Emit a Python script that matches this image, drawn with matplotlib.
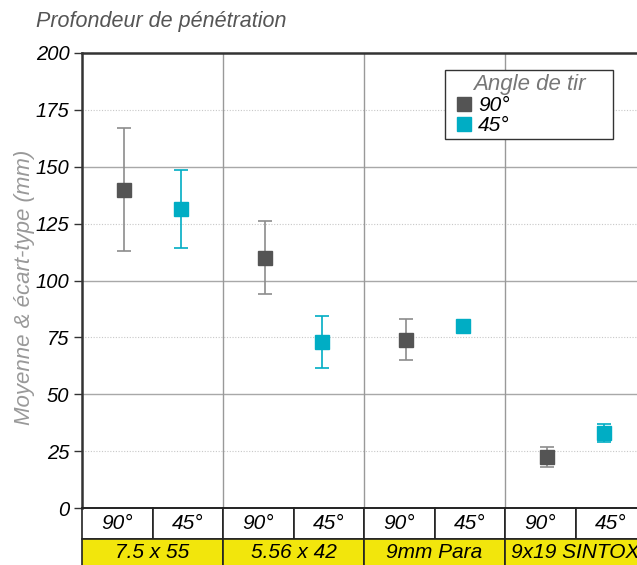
import numpy as np
import matplotlib.pyplot as plt
from matplotlib.patches import Rectangle
from matplotlib.lines import Line2D
from matplotlib.legend_handler import HandlerLine2D

plt.rcParams['font.family'] = ['Liberation Sans', 'DejaVu Sans']
plt.rcParams['font.style'] = 'italic'

categories = ['7.5 x 55', '5.56 x 42', '9mm Para', '9x19 SINTOX']
angles = ['90°', '45°']
mean_90 = [140, 110, 74, 22.5]
sd_90 = [27, 16, 9, 4.5]
mean_45 = [131.5, 73, 80, 33]
sd_45 = [17, 11.5, 0, 4]

c90 = '#545454'
c90_err = '#8c8c8c'
c45 = '#00adc4'

fig = plt.figure(figsize=(6.37, 5.65), dpi=100)
ax = fig.add_axes([82 / 637, 57 / 565, 564 / 637, 455 / 565])

x = np.arange(len(categories))
off = 0.2

ax.errorbar(x - off, mean_90, yerr=sd_90, fmt='none', ecolor=c90_err, elinewidth=1.2, capsize=5, capthick=1.2, zorder=3)
ax.errorbar(x + off, mean_45, yerr=sd_45, fmt='none', ecolor=c45, elinewidth=1.2, capsize=5, capthick=1.2, zorder=3)
ax.plot(x - off, mean_90, 's', color=c90, markersize=10, zorder=4)
ax.plot(x + off, mean_45, 's', color=c45, markersize=10, zorder=4)

ax.set_xlim(-0.5, len(categories) - 0.5)
ax.set_ylim(0, 200)
ax.set_yticks(np.arange(0, 201, 25))
ax.tick_params(axis='y', direction='out', length=6, width=1, color='#333333', pad=3, labelsize=14.5)
ax.set_xticks([])

for v in [50, 100, 150]:
    ax.axhline(v, color='#a8a8a8', lw=1, zorder=1)
for v in [25, 75, 125, 175]:
    ax.axhline(v, color='#c8c8c8', lw=0.8, ls=(0, (1, 1.5)), zorder=1)
for b in x[1:] - 0.5:
    ax.axvline(b, color='#999999', lw=1, zorder=1)

for s in ['top', 'left']:
    ax.spines[s].set_color('#333333')
    ax.spines[s].set_linewidth(1.8)
ax.spines['right'].set_visible(False)
ax.spines['bottom'].set_color('#222222')
ax.spines['bottom'].set_linewidth(1.2)

# table under the axis
tr = ax.get_xaxis_transform()
row_h = 31 / 455
for i, cat in enumerate(categories):
    for j, a in enumerate(angles):
        ax.add_patch(Rectangle((i - 0.5 + j * 0.5, -row_h), 0.5, row_h, transform=tr,
                               facecolor='white', edgecolor='#222222', lw=1.2, clip_on=False))
        ax.text(i - 0.25 + j * 0.5, -row_h / 2, a, transform=tr, ha='center', va='center',
                fontsize=15, clip_on=False)
    ax.add_patch(Rectangle((i - 0.5, -2 * row_h), 1, row_h, transform=tr,
                           facecolor='#f2e60c', edgecolor='#222222', lw=1.2, clip_on=False))
    ax.text(i, -1.5 * row_h + 0.004, cat, transform=tr, ha='center', va='center',
            fontsize=15, clip_on=False)

fig.text(36 / 637, 1 - 22 / 565, 'Profondeur de pénétration',
         fontsize=15.5, color='#555555', va='center', ha='left')
fig.text(25 / 637, 1 - 287 / 565, 'Moyenne & écart-type (mm)',
         fontsize=16, color='#999999', rotation=90, va='center', ha='center')

handles = [Line2D([], [], marker='s', ls='none', color=c90, markersize=9.5),
           Line2D([], [], marker='s', ls='none', color=c45, markersize=9.5)]
leg = ax.legend(handles, angles, title='Angle de tir', loc='upper left',
                bbox_to_anchor=((445 - 82) / 564, 1 - (137 - 53) / 455, 168 / 564, 67 / 455),
                mode='expand', handler_map={Line2D: HandlerLine2D(xpad=0.26)},
                frameon=True, fancybox=False, edgecolor='#333333', framealpha=1,
                handlelength=1.2, handletextpad=0.2, borderpad=0.2, labelspacing=0.05,
                prop={'size': 15}, borderaxespad=0)
leg.get_title().set_fontsize(16)
leg.get_title().set_color('#777777')
leg.get_frame().set_linewidth(1)

fig.savefig('out.png', dpi=100)
